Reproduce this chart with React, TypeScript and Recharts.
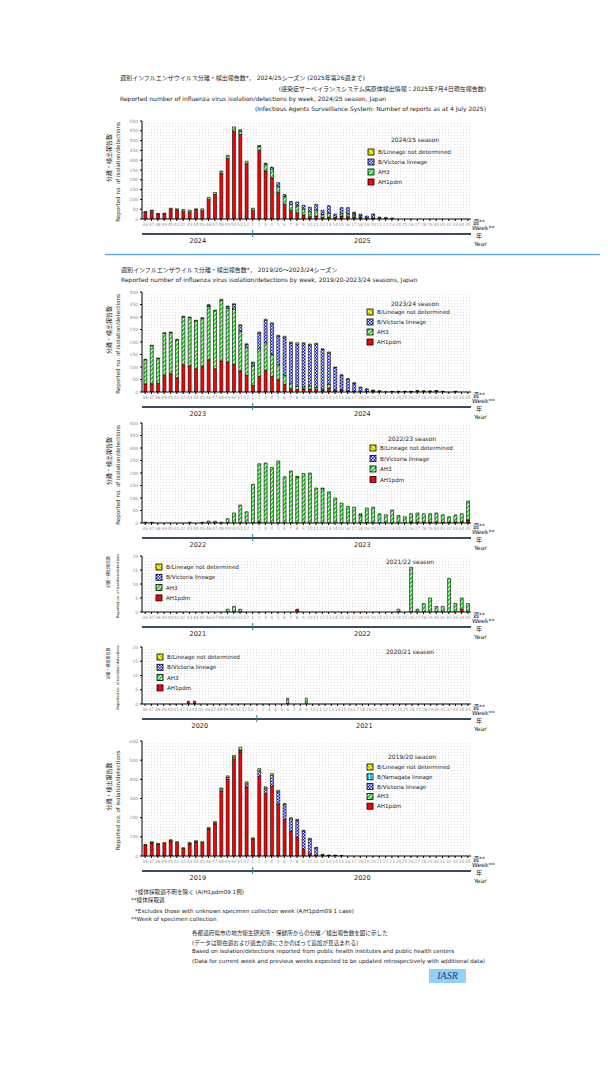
import React from 'react';
import { BarChart, Bar, XAxis, YAxis, CartesianGrid } from 'recharts';

const FONT = '"DejaVu Sans", "Noto Sans CJK JP", sans-serif';

// week tick labels
const weeks52 = ['36','37','38','39','40','41','42','43','44','45','46','47','48','49','50','51','52',
  '1','2','3','4','5','6','7','8','9','10','11','12','13','14','15','16','17','18','19','20','21','22','23','24','25','26','27','28','29','30','31','32','33','34','35'];
const weeks53 = ['36','37','38','39','40','41','42','43','44','45','46','47','48','49','50','51','52','53',
  '1','2','3','4','5','6','7','8','9','10','11','12','13','14','15','16','17','18','19','20','21','22','23','24','25','26','27','28','29','30','31','32','33','34','35'];

const ticks500 = [0, 50, 100, 150, 200, 250, 300, 350, 400, 450, 500];
const ticks400 = [0, 50, 100, 150, 200, 250, 300, 350, 400];
const ticks20 = [0, 5, 10, 15, 20];
const ticks600 = [0, 100, 200, 300, 400, 500, 600];

// 2024/25
const h1_2425 = [35,35,25,27,50,47,38,35,48,42,100,125,232,308,448,432,282,
  45,350,245,210,135,75,45,32,20,12,15,8,8,3,15,12,10,3,2,2,2,1,0,0,0,0,0,0,0,0,0,0,0,0,0];
const h3_2425 = [3,8,3,3,5,5,10,10,4,10,10,10,13,17,22,15,13,
  10,20,35,45,30,40,30,35,30,25,30,15,20,5,12,15,10,5,3,3,2,2,1,0,0,0,0,0,0,0,0,0,0,0,0];
const bv_2425 = [0,0,0,0,0,0,0,0,0,0,0,0,0,0,0,8,0,
  0,5,5,10,20,10,15,20,20,23,30,22,40,17,31,31,10,12,10,18,6,5,4,0,0,0,0,0,0,0,0,0,0,0,0];
const bn_2425 = [0,2,0,0,0,0,0,0,0,0,0,0,0,0,0,0,0,
  0,0,0,0,0,0,0,0,0,0,0,0,0,0,0,0,5,5,0,2,0,0,0,0,0,0,0,0,0,0,0,0,0,0,0];

// 2023/24
const h1_2324 = [33,33,35,67,73,57,109,105,93,103,129,93,124,120,110,84,67,
  27,63,87,63,49,31,13,10,12,12,10,6,15,5,8,2,2,1,2,2,1,0,1,1,1,1,4,3,2,3,1,0,1,0,0];
const h3_2324 = [96,152,99,168,165,152,192,193,192,192,213,232,243,215,222,160,110,
  78,110,110,87,60,36,20,12,8,12,8,6,15,3,2,2,0,0,0,0,0,0,0,0,0,0,0,0,0,0,0,0,0,0,0];
const bv_2324 = [0,0,0,0,0,0,0,0,0,0,5,0,0,7,18,22,13,
  12,62,90,123,114,150,163,169,173,164,173,158,126,90,57,47,33,17,8,4,2,0,1,1,1,1,0,0,1,1,1,0,1,0,0];
const bn_2324 = [2,2,2,2,2,2,2,2,2,2,2,2,4,2,3,3,3,
  3,5,4,4,4,6,4,6,4,4,4,3,4,2,2,2,2,2,3,2,2,1,1,1,1,1,2,2,1,2,1,0,1,0,0];

// 2022/23
const h1_2223 = [0,0,0,0,0,0,0,0,0,0,0,0,0,0,0,0,0,
  0,5,0,0,0,0,0,0,0,0,0,0,0,0,0,0,0,0,3,0,0,0,0,0,0,4,4,3,4,4,3,3,4,5,12];
const h3_2223 = [3,3,0,0,0,0,0,3,0,3,8,7,3,17,40,72,45,
  155,232,240,222,248,185,208,184,198,200,140,137,125,100,80,67,63,32,57,63,37,33,52,30,25,33,36,34,33,36,30,22,28,32,76];
const bv_2223 = [0,0,0,0,0,0,0,0,0,0,0,0,0,0,0,0,0,
  0,0,0,0,0,0,0,0,0,0,0,3,0,0,0,0,0,5,0,0,0,0,0,0,0,0,0,0,0,0,0,0,0,0,0];
const bn_2223 = [0,0,0,0,0,0,0,0,0,0,0,0,0,0,0,0,0,
  0,0,0,0,0,0,0,3,0,0,0,0,0,0,0,0,0,0,0,0,0,0,0,0,0,0,0,0,0,0,0,0,0,0,0];

// 2021/22
const h1_2122 = [0,0,0,0,0,0,0,0,0,0,0,0,0,0,0,0,0,
  0,0,0,0,0,0,0,1,0,0,0,0,0,0,0,0,0,0,0,0,0,0,0,0,0,0,0,0,0,0,0,0,0,1,0];
const h3_2122 = [0,0,0,0,0,0,0,0,0,0,0,0,0,1,2,1,0,
  0,0,0,0,0,0,0,0,0,0,0,0,0,0,0,0,0,0,0,0,0,0,0,1,0,16,1,3,5,2,2,12,3,4,3];
const bv_2122 = [0,0,0,0,0,0,0,0,0,0,0,0,0,0,0,0,0,
  0,0,0,0,0,0,0,0,0,0,0,0,0,0,0,0,0,0,0,0,0,0,0,0,0,0,0,0,0,0,0,0,0,0,0];
const bn_2122 = bv_2122;

// 2020/21 (53 weeks)
const h1_2021 = [0,0,0,0,0,0,0,1,1,0,0,0,0,0,0,0,0,0,
  0,0,0,0,0,0,0,0,0,0,0,0,0,0,0,0,0,0,0,0,0,0,0,0,0,0,0,0,0,0,0,0,0,0,0];
const h3_2021 = [0,0,0,0,0,0,0,0,0,0,0,0,0,0,0,0,0,0,
  0,0,0,0,0,2,0,0,2,0,0,0,0,0,0,0,0,0,0,0,0,0,0,0,0,0,0,0,0,0,0,0,0,0,0];
const bv_2021 = [0,0,0,0,0,0,0,0,0,0,0,0,0,0,0,0,0,0,
  0,0,0,0,0,0,0,0,0,0,0,0,0,0,0,0,0,0,0,0,0,0,0,0,0,0,0,0,0,0,0,0,0,0,0];
const bn_2021 = bv_2021;

// 2019/20
const h1_1920 = [55,68,60,66,78,70,40,62,72,70,140,168,340,400,505,540,360,
  90,415,325,365,272,190,128,98,35,12,5,2,1,1,0,0,0,0,0,0,0,0,0,0,0,0,0,0,0,0,0,0,0,0,0];
const h3_1920 = [2,2,2,0,2,0,0,3,0,0,3,6,10,0,12,8,0,
  0,0,0,0,0,0,0,0,0,0,0,0,0,0,0,0,0,0,0,0,0,0,0,0,0,0,0,0,0,0,0,0,0,0,0];
const by_1920 = [0,0,0,0,0,0,0,0,0,0,0,0,0,0,0,0,0,
  0,0,0,0,0,0,0,0,0,0,0,0,0,0,0,0,0,0,0,0,0,0,0,0,0,0,0,0,0,0,0,0,0,0,0];
const bv_1920 = [0,0,0,0,0,0,0,0,3,0,0,0,0,10,0,5,17,
  0,30,28,55,63,78,66,88,95,76,37,4,2,2,1,0,0,0,0,0,0,0,0,0,0,0,0,0,0,0,0,0,0,0,0];
const bn_1920 = [3,5,4,5,5,5,3,6,5,5,6,5,5,8,8,15,10,
  5,11,8,10,8,6,6,5,4,4,3,3,2,1,1,0,0,0,0,0,0,0,0,0,0,0,0,0,0,0,0,0,0,0,0];

const NAME = {
  bn: 'B/Lineage not determined',
  by: 'B/Yamagata lineage',
  bv: 'B/Victoria lineage',
  h3: 'AH3',
  h1: 'AH1pdm',
};
const FILL = {
  bn: 'url(#pBN)',
  by: 'url(#pBY)',
  bv: 'url(#pBV)',
  h3: 'url(#pH3)',
  h1: '#ff0000',
};

const PLOT_L = 142;
const PLOT_W = 329;
const YW = 30;

type Series = { key: string; values: number[] };

type ChartCfg = {
  season: string;
  plotTop: number;
  plotH: number;
  weeks: string[];
  yMax: number;
  yTicks: number[];
  years: string[];
  split: number;
  series: Series[]; // bottom to top
  legend: { titleX: number; titleY: number; boxX: number; rowY: number; step: number };
  yTitle: { size: number };
};

const charts: ChartCfg[] = [
  {
    season: '2024/25 season', plotTop: 121, plotH: 98, weeks: weeks52, yMax: 500, yTicks: ticks500,
    years: ['2024', '2025'], split: 17,
    series: [{ key: 'h1', values: h1_2425 }, { key: 'h3', values: h3_2425 }, { key: 'bv', values: bv_2425 }, { key: 'bn', values: bn_2425 }],
    legend: { titleX: 415, titleY: 139, boxX: 368, rowY: 152, step: 10 },
    yTitle: { size: 5.6 },
  },
  {
    season: '2023/24 season', plotTop: 292, plotH: 100, weeks: weeks52, yMax: 400, yTicks: ticks400,
    years: ['2023', '2024'], split: 17,
    series: [{ key: 'h1', values: h1_2324 }, { key: 'h3', values: h3_2324 }, { key: 'bv', values: bv_2324 }, { key: 'bn', values: bn_2324 }],
    legend: { titleX: 415, titleY: 303, boxX: 367, rowY: 312, step: 10 },
    yTitle: { size: 5.6 },
  },
  {
    season: '2022/23 season', plotTop: 423, plotH: 100, weeks: weeks52, yMax: 400, yTicks: ticks400,
    years: ['2022', '2023'], split: 17,
    series: [{ key: 'h1', values: h1_2223 }, { key: 'h3', values: h3_2223 }, { key: 'bv', values: bv_2223 }, { key: 'bn', values: bn_2223 }],
    legend: { titleX: 412, titleY: 438, boxX: 370, rowY: 448, step: 10.5 },
    yTitle: { size: 5.6 },
  },
  {
    season: '2021/22 season', plotTop: 556, plotH: 56, weeks: weeks52, yMax: 20, yTicks: ticks20,
    years: ['2021', '2022'], split: 17,
    series: [{ key: 'h1', values: h1_2122 }, { key: 'h3', values: h3_2122 }, { key: 'bv', values: bv_2122 }, { key: 'bn', values: bn_2122 }],
    legend: { titleX: 410, titleY: 561, boxX: 156, rowY: 567, step: 10.3 },
    yTitle: { size: 3.6 },
  },
  {
    season: '2020/21 season', plotTop: 647, plotH: 57, weeks: weeks53, yMax: 20, yTicks: ticks20,
    years: ['2020', '2021'], split: 18,
    series: [{ key: 'h1', values: h1_2021 }, { key: 'h3', values: h3_2021 }, { key: 'bv', values: bv_2021 }, { key: 'bn', values: bn_2021 }],
    legend: { titleX: 410, titleY: 651, boxX: 157, rowY: 657, step: 10.3 },
    yTitle: { size: 3.6 },
  },
  {
    season: '2019/20 season', plotTop: 741, plotH: 115, weeks: weeks52, yMax: 600, yTicks: ticks600,
    years: ['2019', '2020'], split: 17,
    series: [{ key: 'h1', values: h1_1920 }, { key: 'h3', values: h3_1920 }, { key: 'bv', values: bv_1920 }, { key: 'by', values: by_1920 }, { key: 'bn', values: bn_1920 }],
    legend: { titleX: 412, titleY: 756, boxX: 367, rowY: 767, step: 9.8 },
    yTitle: { size: 5.6 },
  },
];

const TOP_M = 4;
const WEEK_AX_H = 15;
const YEAR_AX_H = 22;

function yearTick(cfg: ChartCfg) {
  const n = cfg.weeks.length;
  const band = PLOT_W / n;
  const mids = [(cfg.split - 1) / 2, (cfg.split + n - 1) / 2];
  return (props: any) => {
    const { x, y, index } = props;
    const els: any[] = [];
    mids.forEach((m, k) => {
      if (index === Math.floor(m)) {
        els.push(
          <text key={'y' + k} x={x + (m - Math.floor(m)) * band + 2} y={y + 6.5} textAnchor="middle"
            dominantBaseline="central" fontSize={6.5} fill="#222" fontFamily={FONT}>{cfg.years[k]}</text>
        );
      }
    });
    if (index === cfg.split) {
      els.push(<line key="t" x1={x} x2={x} y1={y - 4} y2={y + 3} stroke="#1a8a9a" strokeWidth={1} />);
    }
    return <g>{els}</g>;
  };
}

function SeasonChart({ cfg }: { cfg: ChartCfg }) {
  const data = cfg.weeks.map((wk, i) => {
    const row: any = { wk };
    cfg.series.forEach((s) => { row[s.key] = s.values[i]; });
    return row;
  });
  const h = TOP_M + cfg.plotH + WEEK_AX_H + YEAR_AX_H;
  return (
    <div style={{ position: 'absolute', left: PLOT_L - YW, top: cfg.plotTop - TOP_M }}>
      <BarChart width={YW + PLOT_W} height={h} data={data}
        margin={{ top: TOP_M, right: 0, bottom: 0, left: 0 }} barCategoryGap="30%">
        <CartesianGrid horizontal={false} vertical={false} fill="url(#pDots)" />
        <XAxis dataKey="wk" interval={0} height={WEEK_AX_H} tickSize={2} tickMargin={2}
          tick={{ fontSize: 4.4, fill: '#999', fontFamily: FONT }}
          axisLine={{ stroke: '#000' }} tickLine={{ stroke: '#000' }} />
        <XAxis xAxisId="yr" dataKey="wk" interval={0} height={YEAR_AX_H} tickSize={0} tickMargin={0}
          tickLine={false} axisLine={{ stroke: '#3d4b5c', strokeWidth: 2 }} tick={yearTick(cfg)} />
        <YAxis width={YW} domain={[0, cfg.yMax]} ticks={cfg.yTicks} interval={0} tickSize={2} tickMargin={2}
          allowDataOverflow tick={{ fontSize: 4.4, fill: '#888', fontFamily: FONT }}
          axisLine={{ stroke: '#000' }} tickLine={{ stroke: '#000' }} />
        {cfg.series.map((s) => (
          <Bar key={s.key} dataKey={s.key} stackId="a" fill={FILL[s.key]} stroke="#000"
            strokeWidth={0.6} isAnimationActive={false} />
        ))}
      </BarChart>
    </div>
  );
}

function Txt({ x, y, size = 6, anchor = 'start', fill = '#222', rot = false, children }: any) {
  return (
    <text x={x} y={y} fontSize={size} textAnchor={anchor} dominantBaseline="central" fill={fill}
      fontFamily={FONT} transform={rot ? `rotate(-90 ${x} ${y})` : undefined}>{children}</text>
  );
}

function Overlay() {
  return (
    <svg width={608} height={1080} style={{ position: 'absolute', left: 0, top: 0, pointerEvents: 'none' }}>
      <defs>
        <pattern id="pDots" width="3" height="3" patternUnits="userSpaceOnUse">
          <rect width="1" height="1" fill="#e0e0e0" />
        </pattern>
        <pattern id="pH3" width="3" height="3" patternUnits="userSpaceOnUse" patternTransform="rotate(45)">
          <rect width="3" height="3" fill="#1fd81f" />
          <rect width="1" height="3" fill="#ffffff" />
        </pattern>
        <pattern id="pBV" width="3" height="3" patternUnits="userSpaceOnUse">
          <rect width="3" height="3" fill="#0010ee" />
          <rect width="1.5" height="1.5" fill="#ffffff" />
          <rect x="1.5" y="1.5" width="1.5" height="1.5" fill="#ffffff" />
        </pattern>
        <pattern id="pBY" width="3" height="3" patternUnits="userSpaceOnUse">
          <rect width="3" height="3" fill="#10c8e8" />
          <rect width="1" height="3" fill="#ffffff" />
        </pattern>
        <pattern id="pBN" width="3" height="3" patternUnits="userSpaceOnUse" patternTransform="rotate(-45)">
          <rect width="3" height="3" fill="#ffff00" />
          <rect width="0.6" height="3" fill="#777700" />
        </pattern>
      </defs>

      {/* page header */}
      <Txt x={120} y={77} size={6}>週別インフルエンザウイルス分離・検出報告数*， 2024/25シーズン (2025年第26週まで)</Txt>
      <Txt x={486} y={88} size={6} anchor="end">(感染症サーベイランスシステム病原体検出情報：2025年7月4日現在報告数)</Txt>
      <Txt x={120} y={98} size={6}>Reported number of influenza virus isolation/detections by week, 2024/25 season, Japan</Txt>
      <Txt x={486} y={108} size={6} anchor="end">(Infectious Agents Surveillance System: Number of reports as at 4 July 2025)</Txt>

      <line x1={105} x2={600} y1={254.5} y2={254.5} stroke="#5fb0de" strokeWidth={1.5} />
      <Txt x={121} y={269} size={6}>週別インフルエンザウイルス分離・検出報告数*， 2019/20～2023/24シーズン</Txt>
      <Txt x={121} y={279} size={6}>Reported number of influenza virus isolation/detections by week, 2019/20-2023/24 seasons, Japan</Txt>

      {charts.map((c) => {
        const bottom = c.plotTop + c.plotH;
        const mid = c.plotTop + c.plotH / 2;
        const lg = c.legend;
        const keys = c.series.map((s) => s.key).slice().reverse();
        return (
          <g key={c.season}>
            <Txt x={118} y={mid + 2} size={c.yTitle.size} anchor="middle" rot>Reported no. of isolation/detections</Txt>
            <Txt x={108} y={mid - 12} size={c.yTitle.size + 0.4} anchor="middle" rot>分離・検出報告数</Txt>
            <Txt x={473} y={bottom + 2.5} size={6}>週**</Txt>
            <Txt x={472} y={bottom + 8.5} size={6}>Week**</Txt>
            <Txt x={476} y={bottom + 16.5} size={6}>年</Txt>
            <Txt x={474} y={bottom + 24} size={6}>Year</Txt>
            <Txt x={lg.titleX} y={lg.titleY} size={6} anchor="middle">{c.season}</Txt>
            {keys.map((k, i) => (
              <g key={k}>
                <rect x={lg.boxX} y={lg.rowY + i * lg.step - 3} width={6} height={6} fill={FILL[k]} stroke="#000" strokeWidth={0.8} />
                <Txt x={lg.boxX + 10} y={lg.rowY + i * lg.step} size={5.6}>{NAME[k]}</Txt>
              </g>
            ))}
          </g>
        );
      })}

      {/* footer */}
      <Txt x={135} y={892} size={5.6}>*検体採取週不明を除く (A/H1pdm09 1例)</Txt>
      <Txt x={131} y={900} size={5.6}>**検体採取週</Txt>
      <Txt x={135} y={911} size={5.6}>*Excludes those with unknown specimen collection week  (A/H1pdm09 1 case)</Txt>
      <Txt x={131} y={919} size={5.6}>**Week of specimen collection</Txt>
      <Txt x={192} y={933} size={5.6}>各都道府県市の地方衛生研究所・保健所からの分離／検出報告数を図に示した</Txt>
      <Txt x={192} y={943} size={5.6}>(データは現在週および過去の週にさかのぼって追加が見込まれる)</Txt>
      <Txt x={192} y={951} size={5.6}>Based on isolation/detections reported from public health institutes and public health centers</Txt>
      <Txt x={192} y={961} size={5.6}>(Data for current week and previous weeks expected to be updated retrospectively with additional data)</Txt>

      <rect x={429} y={969} width={37} height={14} fill="#8fd3f0" />
      <text x={447.5} y={979} fontSize={10} fontStyle="italic" fontFamily='"Liberation Serif", serif'
        textAnchor="middle" fill="#1f3a8a">IASR</text>
    </svg>
  );
}

export default function App() {
  return (
    <div style={{ position: 'absolute', left: 0, top: 0, width: 608, height: 1080, background: '#fff', fontFamily: FONT }}>
      {charts.map((c) => <SeasonChart key={c.season} cfg={c} />)}
      <Overlay />
    </div>
  );
}
